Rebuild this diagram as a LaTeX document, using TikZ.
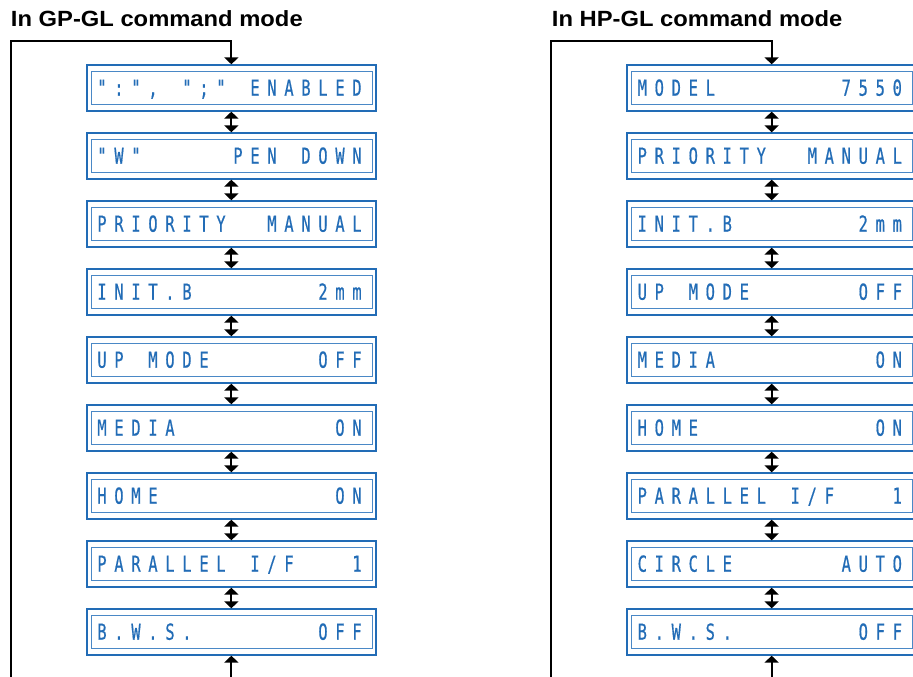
\documentclass[tikz,border=0pt]{standalone}
\usepackage{fontspec}
\usetikzlibrary{arrows.meta,calc}
\newfontfamily\titlefont[FakeStretch=1.08]{Liberation Sans}
\newfontfamily\lcdfont[FakeStretch=0.7,FakeBold=0.6]{DejaVu Sans Mono}
\definecolor{lcdblue}{RGB}{34,108,182}
\definecolor{lcdinner}{RGB}{74,136,198}
\newlength\cellw
\setlength\cellw{12.75pt}
\def\lcdloop#1{\ifx\relax#1\else\makebox[\cellw][c]{#1}\expandafter\lcdloop\fi}
\newcommand\lcd[1]{\lcdloop#1\relax}
\newcommand\lcdbox[4]{%
  \node[box] (#1) at (#2,#3) {};
  \draw[inbox] ($(#1.north west)+(5.5,6.7)$) rectangle ($(#1.south east)+(-4.5,-6.7)$);
  \node[lcdtext] (#1t) at ($(#2,#3)+(-1.85,7.7)$) {\lcd{#4}};
}
\begin{document}
\begin{tikzpicture}[x=0.75pt,y=-0.75pt,
  box/.style={draw=lcdblue, line width=1.5pt, minimum width=217pt, minimum height=34pt, inner sep=0pt},
  inbox/.style={draw=lcdinner, line width=0.75pt},
  lcdtext/.style={anchor=base, inner sep=0pt, text=lcdblue, font=\lcdfont\fontsize{16.5}{18}\selectfont},
  title/.style={anchor=base west, inner sep=0pt, font=\titlefont\bfseries\fontsize{16.5}{18}\selectfont},
  flow/.style={line width=1.5pt, >={Triangle[width=10.5pt,length=5.25pt]}}
]
\useasboundingbox (0,0) rectangle (913,677);
\clip (0,0) rectangle (913,677);

% titles
\node[title] (T1) at (10.7,26.7) {In GP-GL command mode};
\node[title] (T2) at (551.7,26.7) {In HP-GL command mode};

% left column
\lcdbox{L0}{231.35}{88}{":",~";"~ENABLED}
\lcdbox{L1}{231.35}{156}{"W"~~~~~PEN~DOWN}
\lcdbox{L2}{231.35}{224}{PRIORITY~~MANUAL}
\lcdbox{L3}{231.35}{292}{INIT.B~~~~~~~2mm}
\lcdbox{L4}{231.35}{360}{UP~MODE~~~~~~OFF}
\lcdbox{L5}{231.35}{428}{MEDIA~~~~~~~~~ON}
\lcdbox{L6}{231.35}{496}{HOME~~~~~~~~~~ON}
\lcdbox{L7}{231.35}{564}{PARALLEL~I/F~~~1}
\lcdbox{L8}{231.35}{632}{B.W.S.~~~~~~~OFF}

% right column
\lcdbox{R0}{771.65}{88}{MODEL~~~~~~~7550}
\lcdbox{R1}{771.65}{156}{PRIORITY~~MANUAL}
\lcdbox{R2}{771.65}{224}{INIT.B~~~~~~~2mm}
\lcdbox{R3}{771.65}{292}{UP~MODE~~~~~~OFF}
\lcdbox{R4}{771.65}{360}{MEDIA~~~~~~~~~ON}
\lcdbox{R5}{771.65}{428}{HOME~~~~~~~~~~ON}
\lcdbox{R6}{771.65}{496}{PARALLEL~I/F~~~1}
\lcdbox{R7}{771.65}{564}{CIRCLE~~~~~~AUTO}
\lcdbox{R8}{771.65}{632}{B.W.S.~~~~~~~OFF}

% double arrows
\foreach \c in {L,R}{
  \foreach \i [evaluate=\i as \j using int(\i+1)] in {0,...,7}{
    \draw[flow,<->] (\c\i.south) -- (\c\j.north);
  }
}

% loops
\coordinate (LB) at (10.5,700);
\coordinate (LC) at (10.5,41.2);
\coordinate (LT) at (231.35,41.2);
\coordinate (LM) at (231.35,700);
\draw[flow,->] (LB) -- (LC) -- (LT) -- (L0.north);
\draw[flow,->] (LM) -- (L8.south);

\coordinate (RB) at (550.8,700);
\coordinate (RC) at (550.8,41.2);
\coordinate (RT) at (771.65,41.2);
\coordinate (RM) at (771.65,700);
\draw[flow,->] (RB) -- (RC) -- (RT) -- (R0.north);
\draw[flow,->] (RM) -- (R8.south);
\end{tikzpicture}
\end{document}
